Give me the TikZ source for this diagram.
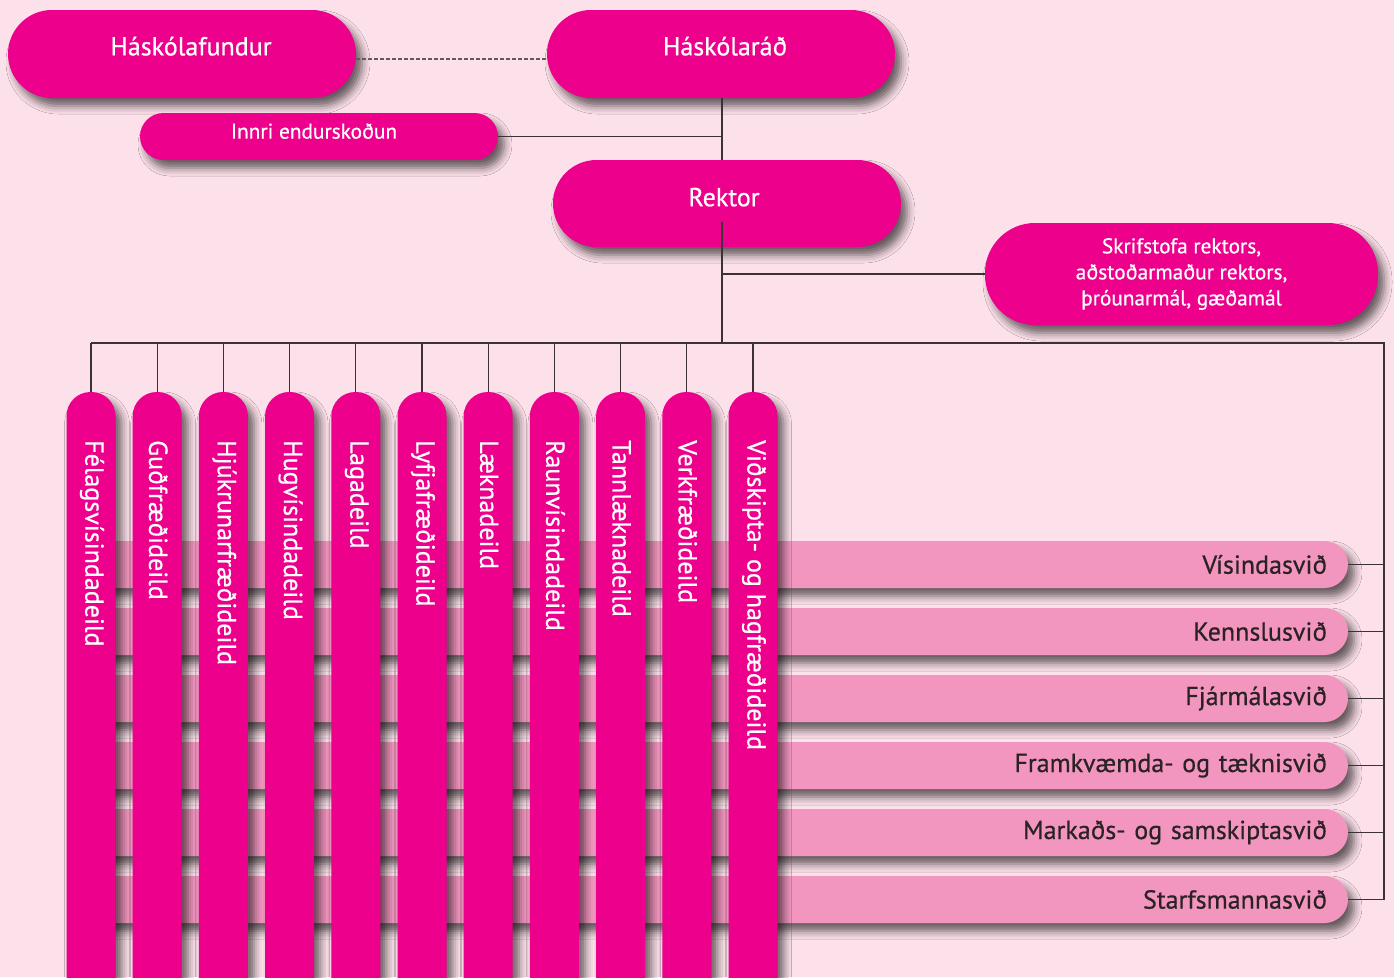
\documentclass[tikz,border=0pt]{standalone}
\usepackage{fontspec}
\setmainfont{PT Sans}[FakeBold=0.6]
\usetikzlibrary{shadows.blur}
\definecolor{bg}{HTML}{FCE0EA}
\definecolor{mag}{HTML}{EC008C}
\definecolor{barpink}{HTML}{F296BF}
\definecolor{dtext}{HTML}{2B2226}
\definecolor{lin}{HTML}{3A3236}
\newcommand{\fbig}{\fontsize{26}{30}\selectfont}
\newcommand{\fmid}{\fontsize{21.3}{26}\selectfont}
\begin{document}
\begin{tikzpicture}[x=1pt,y=-1pt,
  shad/.style={blur shadow={shadow xshift=6pt, shadow yshift=-8pt, shadow blur radius=8pt, shadow opacity=60}},
  pill/.style={fill=mag, text=white, shad, inner sep=0pt},
  barbox/.style={fill=barpink, text=dtext, shad, rounded corners=23.5pt, minimum width=1268pt, minimum height=47pt, text width=1226pt, align=right, inner xsep=21pt, inner ysep=0pt, font=\fbig},
  colbox/.style={fill=mag, shad, rounded corners=24pt, minimum width=49pt, minimum height=648pt, inner sep=0pt},
  coltext/.style={text=white, rotate=-90, anchor=west, inner sep=0pt, font=\fbig},
  ln/.style={draw=lin, line width=1.3pt},
]
\fill[bg] (0,0) rectangle (1394,977);
\useasboundingbox (0,0) rectangle (1394,977);
\clip (0,0) rectangle (1394,977);

% top boxes
\node[pill, rounded corners=44pt, minimum width=348pt, minimum height=88pt, font=\fbig] (hf) at (182,54) {\raisebox{16pt}{\hspace*{18pt}Háskólafundur}};
\node[pill, rounded corners=44pt, minimum width=348pt, minimum height=88pt, font=\fbig] (hr) at (721,54) {\raisebox{16pt}{\hspace*{8pt}Háskólaráð}};
\node[pill, rounded corners=23.5pt, minimum width=358pt, minimum height=47pt, font=\fmid] (ie) at (319,136.5) {\raisebox{11pt}{\hspace*{-10pt}Innri endurskoðun}};
\node[pill, rounded corners=43.5pt, minimum width=348pt, minimum height=87pt, font=\fbig] (rk) at (727,203.5) {\raisebox{13pt}{\hspace*{-6pt}Rektor}};
\node[pill, rounded corners=50pt, minimum width=393pt, minimum height=102pt, font=\fmid, align=center] (sk) at (1181.5,274) {\raisebox{4pt}{\parbox{320pt}{\centering Skrifstofa rektors,\\ aðstoðarmaður rektors,\\ þróunarmál, gæðamál}}};

% horizontal bars
\node[barbox] (b1) at (714,564.5) {Vísindasvið};
\node[barbox] (b2) at (714,631.5) {Kennslusvið};
\node[barbox] (b3) at (714,698.5) {Fjármálasvið};
\node[barbox] (b4) at (714,765.5) {Framkvæmda- og tæknisvið};
\node[barbox] (b5) at (714,832.5) {Markaðs- og samskiptasvið};
\node[barbox] (b6) at (714,899.5) {Starfsmannasvið};

% columns
\foreach \i/\t in {0/Félagsvísindadeild,1/Guðfræðideild,2/Hjúkrunarfræðideild,3/Hugvísindadeild,4/Lagadeild,5/Lyfjafræðideild,6/Læknadeild,7/Raunvísindadeild,8/Tannlæknadeild,9/Verkfræðideild,10/{Viðskipta- og hagfræðideild}}{
  \node[colbox] (c\i) at ({91+66.2*\i},716) {};
  \node[coltext] (t\i) at ({92+66.2*\i},440) {\t};
}

% connectors
\coordinate (spine) at (722,343);
\coordinate (busR) at (1384,343);
\draw[ln, line width=1.2pt, draw=lin!80, dash pattern=on 4pt off 2pt] ([yshift=-5pt]hf.east) -- ([yshift=-5pt]hr.west);
\draw[ln] (hr.south -| spine) -- (rk.north -| spine);
\draw[ln] (ie.east) -- (ie.east -| spine);
\draw[ln] ([yshift=25pt]rk.south -| spine) -- (spine);
\draw[ln] (sk.west) -- (sk.west -| spine);
\draw[ln] (c0.north |- busR) -- (busR) -- (busR |- b6.east) -- (b6.east);
\foreach \b in {b1,b2,b3,b4,b5}{
  \draw[ln] (\b.east) -- (\b.east -| busR);
}
\foreach \i in {0,...,10}{
  \draw[ln] (c\i.north) -- (c\i.north |- busR);
}
\end{tikzpicture}
\end{document}
